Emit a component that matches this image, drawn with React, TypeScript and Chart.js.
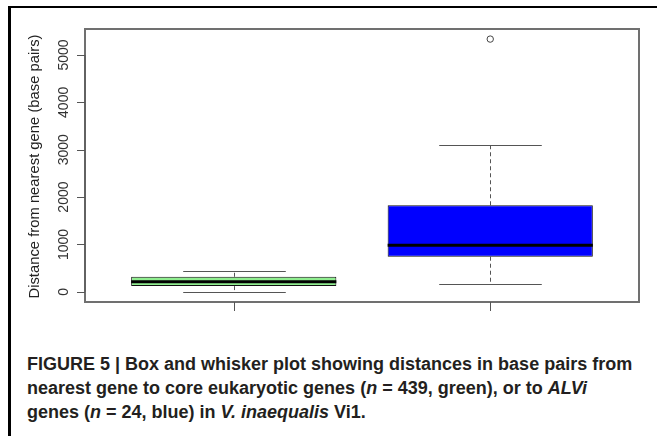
import React, { useEffect, useRef } from "react";
import { Chart, registerables } from "chart.js";

Chart.register(...registerables);

// ---- data ----
const groups = ["core eukaryotic genes", "ALVi genes"];
const groupPositions = [1, 2];
const boxColors = ["#90EE90", "#0000FF"];
const whiskerLow = [0, 156];
const q1 = [120, 740];
const medians = [211, 981];
const q3 = [317, 1827];
const whiskerHigh = [437, 3101];
const outliers = [{ x: 2, y: 5336 }];
const yTicks = [0, 1000, 2000, 3000, 4000, 5000];
const yTitle = "Distance from nearest gene (base pairs)";

const Y_MIN = -216;
const Y_MAX = 5549;
const X_MIN = 0.42;
const X_MAX = 2.58;

const boxPlotPlugin = {
  id: "boxPlotExtras",
  beforeDatasetsDraw(chart: any) {
    const { ctx, scales } = chart;
    const x = scales.x;
    const y = scales.y;
    const meta = chart.getDatasetMeta(0);
    ctx.save();
    groupPositions.forEach((pos, i) => {
      const bar = meta.data[i];
      const w = bar ? bar.getProps(["width"], true).width : 0;
      const cx = Math.round(x.getPixelForValue(pos)) + 0.5;
      ctx.strokeStyle = "#555";
      ctx.lineWidth = 1;
      ctx.setLineDash([4, 3]);
      ctx.beginPath();
      ctx.moveTo(cx, y.getPixelForValue(q3[i]));
      ctx.lineTo(cx, y.getPixelForValue(whiskerHigh[i]));
      ctx.moveTo(cx, y.getPixelForValue(q1[i]));
      ctx.lineTo(cx, y.getPixelForValue(whiskerLow[i]));
      ctx.stroke();
      ctx.setLineDash([]);
      const sw = w / 4;
      ctx.beginPath();
      const yh = Math.round(y.getPixelForValue(whiskerHigh[i])) + 0.5;
      const yl = Math.round(y.getPixelForValue(whiskerLow[i])) + 0.5;
      ctx.moveTo(cx - sw, yh);
      ctx.lineTo(cx + sw, yh);
      ctx.moveTo(cx - sw, yl);
      ctx.lineTo(cx + sw, yl);
      ctx.stroke();
    });
    ctx.restore();
  },
  afterDatasetsDraw(chart: any) {
    const { ctx, chartArea, scales } = chart;
    const x = scales.x;
    const y = scales.y;
    const meta = chart.getDatasetMeta(0);
    ctx.save();
    groupPositions.forEach((pos, i) => {
      const bar = meta.data[i];
      const { x: bx, width } = bar.getProps(["x", "width"], true);
      const ym = y.getPixelForValue(medians[i]);
      ctx.strokeStyle = "#000";
      ctx.lineWidth = 3;
      ctx.beginPath();
      ctx.moveTo(bx - width / 2, ym);
      ctx.lineTo(bx + width / 2, ym);
      ctx.stroke();
    });
    ctx.strokeStyle = "#707070";
    ctx.lineWidth = 2;
    ctx.strokeRect(chartArea.left, chartArea.top, chartArea.right - chartArea.left, chartArea.bottom - chartArea.top);
    ctx.lineWidth = 1;
    ctx.strokeStyle = "#555";
    const y0 = y.getPixelForValue(yTicks[0]);
    const y1 = y.getPixelForValue(yTicks[yTicks.length - 1]);
    ctx.beginPath();
    ctx.moveTo(chartArea.left, y0);
    ctx.lineTo(chartArea.left, y1);
    yTicks.forEach((t) => {
      const py = Math.round(y.getPixelForValue(t)) + 0.5;
      ctx.moveTo(chartArea.left - 8, py);
      ctx.lineTo(chartArea.left, py);
    });
    groupPositions.forEach((pos) => {
      const px = Math.round(x.getPixelForValue(pos)) + 0.5;
      ctx.moveTo(px, chartArea.bottom);
      ctx.lineTo(px, chartArea.bottom + 9);
    });
    ctx.stroke();
    ctx.fillStyle = "#333";
    ctx.font = "14px 'Liberation Sans', Arial, sans-serif";
    ctx.textAlign = "center";
    ctx.textBaseline = "middle";
    yTicks.forEach((t) => {
      const py = y.getPixelForValue(t);
      ctx.save();
      ctx.translate(chartArea.left - 21, py);
      ctx.rotate(-Math.PI / 2);
      ctx.fillText(String(t), 0, 0);
      ctx.restore();
    });
    ctx.fillStyle = "#222";
    ctx.font = "14.8px 'Liberation Sans', Arial, sans-serif";
    ctx.save();
    ctx.translate(chartArea.left - 50, (chartArea.top + chartArea.bottom) / 2 + 1);
    ctx.rotate(-Math.PI / 2);
    ctx.fillText(yTitle, 0, 0);
    ctx.restore();
    ctx.restore();
  },
};

export default function App() {
  const ref = useRef<HTMLCanvasElement | null>(null);
  useEffect(() => {
    if (!ref.current) return;
    const chart = new Chart(ref.current, {
      type: "bar",
      data: {
        datasets: [
          {
            type: "bar",
            label: "IQR",
            data: groupPositions.map((p, i) => ({ x: p, y: [q1[i], q3[i]] })) as any,
            backgroundColor: boxColors,
            borderColor: "#111",
            borderWidth: 1,
            borderSkipped: false,
            categoryPercentage: 1,
            barPercentage: 0.8,
            order: 2,
          } as any,
          {
            type: "scatter",
            label: "outliers",
            data: outliers,
            pointRadius: 3.2,
            pointBackgroundColor: "#fff",
            pointBorderColor: "#444",
            pointBorderWidth: 1,
            order: 1,
          } as any,
        ],
      },
      options: {
        animation: false,
        responsive: false,
        devicePixelRatio: 1,
        layout: { padding: { left: 85, top: 29, right: 18, bottom: 28 } },
        plugins: { legend: { display: false }, tooltip: { enabled: false } },
        scales: {
          x: {
            type: "linear",
            min: X_MIN,
            max: X_MAX,
            display: false,
            offset: false,
            afterBuildTicks: (scale: any) => {
              scale.ticks = groupPositions.map((v) => ({ value: v }));
            },
          },
          y: { type: "linear", min: Y_MIN, max: Y_MAX, display: false },
        },
      },
      plugins: [boxPlotPlugin],
    });
    return () => chart.destroy();
  }, []);

  return (
    <div style={{ position: "absolute", left: 0, top: 0, width: 657, height: 436, background: "#fff", overflow: "hidden" }}>
      <div
        style={{
          position: "absolute",
          left: 8,
          top: 6,
          width: 660,
          height: 440,
          borderTop: "2px solid #000",
          borderLeft: "3px solid #000",
        }}
      />
      <canvas ref={ref} width={657} height={330} style={{ position: "absolute", left: 0, top: 0, display: "block" }} />
      <div
        style={{
          position: "absolute",
          left: 27,
          top: 352,
          width: 628,
          fontFamily: "'Liberation Sans', Arial, sans-serif",
          fontWeight: "bold",
          fontSize: 18,
          lineHeight: "24px",
          color: "#231f20",
          whiteSpace: "nowrap",
        }}
      >
        FIGURE 5 | Box and whisker plot showing distances in base pairs from
        <br />
        nearest gene to core eukaryotic genes (<i>n</i> = 439, green), or to <i>ALVi</i>
        <br />
        genes (<i>n</i> = 24, blue) in <i>V. inaequalis</i> Vi1.
      </div>
    </div>
  );
}
